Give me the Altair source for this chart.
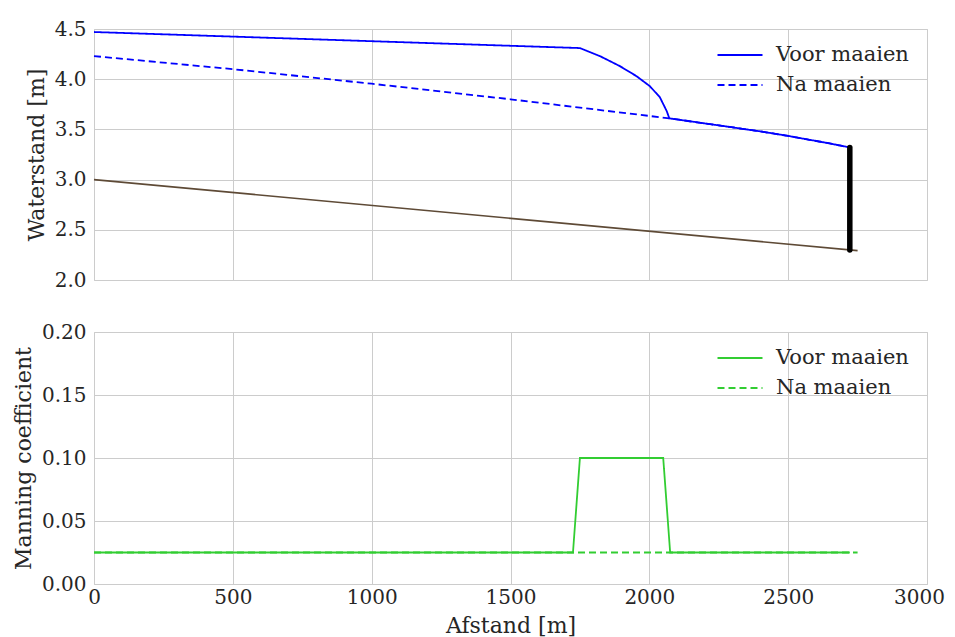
import altair as alt
import pandas as pd

# ---- data ----
afstand_voor = [0, 1750, 1822, 1894, 1954, 2002, 2038, 2063, 2072, 2250, 2400, 2500, 2650, 2722]
waterstand_voor = [4.47, 4.31, 4.23, 4.13, 4.03, 3.93, 3.82, 3.68, 3.61, 3.54, 3.48, 3.435, 3.36, 3.32]

afstand_na = [0, 500, 1000, 1500, 2072, 2250, 2400, 2500, 2650, 2722]
waterstand_na = [4.23, 4.10, 3.955, 3.80, 3.61, 3.54, 3.48, 3.435, 3.36, 3.32]

afstand_bodem = [0, 2750]
bodem = [3.0, 2.293]

stuw_x = [2722]
stuw_onder = [2.30]
stuw_boven = [3.32]

afstand_n_voor = [0, 1725, 1750, 2050, 2075, 2722]
manning_voor = [0.025, 0.025, 0.100, 0.100, 0.025, 0.025]
afstand_n_na = [0, 2750]
manning_na = [0.025, 0.025]

labels = ["Voor maaien", "Na maaien"]

# ---- tables ----
water = pd.concat([
    pd.DataFrame({"x": afstand_na, "y": waterstand_na, "s": labels[1], "o": 0}),
    pd.DataFrame({"x": afstand_voor, "y": waterstand_voor, "s": labels[0], "o": 1}),
])
bodem_df = pd.DataFrame({"x": afstand_bodem, "y": bodem})
stuw_df = pd.DataFrame({"x": stuw_x, "y": stuw_onder, "y2": stuw_boven})
manning = pd.concat([
    pd.DataFrame({"x": afstand_n_na, "y": manning_na, "s": labels[1], "o": 0}),
    pd.DataFrame({"x": afstand_n_voor, "y": manning_voor, "s": labels[0], "o": 1}),
])

FONT = "DejaVu Serif"
TXT = "#262626"
W = 833

dash_scale = alt.Scale(domain=labels, range=[[1, 0], [7, 4]])

def legend(color):
    return alt.Legend(
        title=None, orient="none", legendX=630, legendY=10,
        symbolType="M-1.5,0L1.5,0", symbolStrokeColor=color, symbolStrokeWidth=2,
        symbolSize=900, labelFont=FONT, labelFontSize=21, labelColor=TXT,
        labelOffset=20, rowPadding=4,
    )

x_scale = alt.Scale(domain=[0, 3000], nice=False)
x_top = alt.X("x:Q", scale=x_scale,
              axis=alt.Axis(values=list(range(0, 3001, 500)), labels=False, title=None))
x_bot = alt.X("x:Q", scale=x_scale,
              axis=alt.Axis(values=list(range(0, 3001, 500)), format="d", labelFlush=False,
                            labelOffset={"condition": {"test": "datum.value >= 3000", "value": -8},
                                         "value": 0},
                            title="Afstand [m]", labelPadding=3))

y_top_scale = alt.Scale(domain=[2.0, 4.5], nice=False, zero=False)

water_lines = alt.Chart(water).mark_line(color="#0000ff", strokeWidth=1.8).encode(
    x=x_top,
    y=alt.Y("y:Q", scale=y_top_scale,
            axis=alt.Axis(values=[2.0, 2.5, 3.0, 3.5, 4.0, 4.5], format=".1f",
                          title="Waterstand [m]", titlePadding=6)),
    strokeDash=alt.StrokeDash("s:N", scale=dash_scale, legend=legend("#0000ff")),
    order="o:Q",
)
bodem_line = alt.Chart(bodem_df).mark_line(color="#5e4a36", strokeWidth=1.6).encode(
    x=alt.X("x:Q", scale=x_scale), y=alt.Y("y:Q", scale=y_top_scale))
stuw = alt.Chart(stuw_df).mark_rule(color="black", strokeWidth=5.5, strokeCap="round").encode(
    x=alt.X("x:Q", scale=x_scale), y=alt.Y("y:Q", scale=y_top_scale), y2="y2:Q")

top = alt.layer(bodem_line, water_lines, stuw).properties(width=W, height=251)

manning_lines = alt.Chart(manning).mark_line(color="#32cd32", strokeWidth=1.8).encode(
    x=x_bot,
    y=alt.Y("y:Q", scale=alt.Scale(domain=[0, 0.2], nice=False),
            axis=alt.Axis(values=[0, 0.05, 0.10, 0.15, 0.20], format=".2f",
                          title="Manning coefficient", titlePadding=6)),
    strokeDash=alt.StrokeDash("s:N", scale=dash_scale, legend=legend("#32cd32")),
    order="o:Q",
)
bottom = manning_lines.properties(width=W, height=252)

chart = alt.vconcat(top, bottom, spacing=52, bounds="flush").resolve_scale(
    strokeDash="independent"
).resolve_legend(
    strokeDash="independent"
).properties(
    padding={"left": 3, "top": 10, "right": 0, "bottom": 0}
).configure_view(
    stroke="#cccccc", strokeWidth=1
).configure_axis(
    labelFont=FONT, labelFontSize=20, labelColor=TXT,
    titleFont=FONT, titleFontSize=22, titleFontWeight="normal", titleColor=TXT,
    gridColor="#cccccc", gridWidth=1, domain=False, ticks=False, labelPadding=8,
).configure_axisX(titlePadding=8)

chart.save("out.html", embed_options={"renderer": "svg", "actions": False})
